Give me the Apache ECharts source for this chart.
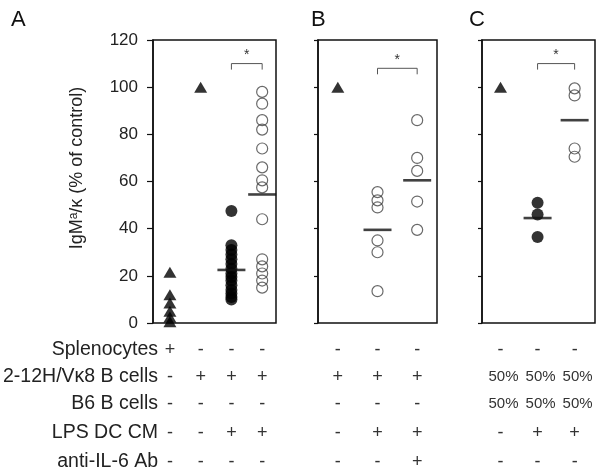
<!DOCTYPE html>
<html>
<head>
<meta charset="utf-8">
<script src="https://cdn.jsdelivr.net/npm/echarts/dist/echarts.min.js"></script>
<style>
html,body{margin:0;padding:0;background:#fff;}
#main{width:600px;height:474px;}
</style>
</head>
<body>
<div id="main"></div>
<script>
// ---------- data ----------
// y-axis ticks
const yTicks = [0, 20, 40, 60, 80, 100, 120];
// Panel A columns (0..3)
const aSplenocytes = [21.5, 12, 8.5, 5, 2.5, 0.5];
const aVk8 = [100];
const aVk8LPS1 = [47.5, 33, 31, 29, 27, 25, 23, 21, 19.5, 18, 16, 14, 12.5, 11, 10];
const aVk8LPS2 = [98, 93, 86, 82, 74, 66, 60.5, 57.5, 44, 27, 24, 21, 18, 15];
const aMeans = [22.5, 54.5];          // for columns 2 and 3
const aBracket = [2, 3, 110];
// Panel B columns (0..2)
const bVk8 = [100];
const bVk8LPS = [55.5, 52, 49, 35, 30, 13.5];
const bVk8LPSAb = [86, 70, 64.5, 51.5, 39.5];
const bMeans = [39.5, 60.5];          // for columns 1 and 2
const bBracket = [1, 2, 108];
// Panel C columns (0..2)
const cMix = [100];
const cMixLPS = [51, 46, 36.5];
const cMixLPSAb = [99.5, 96.5, 74, 70.5];
const cMeans = [44.5, 86];            // for columns 1 and 2
const cBracket = [1, 2, 110];
// Table under the panels
const rowLabels = ['Splenocytes', '2-12H/V\u03ba8 B cells', 'B6 B cells', 'LPS DC CM', 'anti-IL-6 Ab'];
const tableA = [['+','-','-','-'], ['-','+','+','+'], ['-','-','-','-'], ['-','-','+','+'], ['-','-','-','-']];
const tableB = [['-','-','-'], ['+','+','+'], ['-','-','-'], ['-','+','+'], ['-','-','+']];
const tableC = [['-','-','-'], ['50%','50%','50%'], ['50%','50%','50%'], ['-','+','+'], ['-','-','-']];
const panelLetters = ['A', 'B', 'C'];

// ---------- chart ----------
const FONT = 'Liberation Sans, Arial, Helvetica, sans-serif';
const chart = echarts.init(document.getElementById('main'), null, {renderer: 'canvas', width: 600, height: 474});

const grids = [
  {left: 153, right: 324, top: 40, bottom: 151},
  {left: 318, right: 163, top: 40, bottom: 151},
  {left: 482, right: 5, top: 40, bottom: 151}
].map(g => Object.assign({show: true, borderColor: '#111', borderWidth: 1.5, containLabel: false, outerBoundsMode: 'none'}, g));

const xRanges = [[-0.55, 3.45], [-0.5, 2.5], [-0.5, 2.55]];
const xAxes = xRanges.map((r, i) => ({type: 'value', gridIndex: i, min: r[0], max: r[1], show: false}));
const yAxes = [0, 1, 2].map(i => ({
  type: 'value', gridIndex: i, position: 'left', min: yTicks[0], max: yTicks[yTicks.length - 1], interval: yTicks[1] - yTicks[0],
  axisLine: {show: true, onZero: false, lineStyle: {color: '#111', width: 1.5}},
  axisTick: {show: true, inside: false, length: i === 0 ? 6 : 4, lineStyle: {color: '#111', width: 1.2}},
  axisLabel: {show: i === 0, fontFamily: FONT, fontSize: 17, color: '#222', margin: 15},
  splitLine: {show: false}
}));

const col = (arr, x) => arr.map(v => [x, v]);
const tri = {symbol: 'triangle', symbolSize: [13, 11], itemStyle: {color: '#000'}};
const dot = {symbol: 'circle', symbolSize: 12, itemStyle: {color: '#000'}};
const ring = {symbol: 'circle', symbolSize: 11, itemStyle: {color: 'rgba(0,0,0,0)', borderColor: '#444', borderWidth: 1.2}};

function sc(gi, data, style) {
  return Object.assign({type: 'scatter', xAxisIndex: gi, yAxisIndex: gi, data: data, silent: true, animation: false}, JSON.parse(JSON.stringify(style)));
}
function meanSeries(gi, cols, means) {
  return {type: 'scatter', xAxisIndex: gi, yAxisIndex: gi, symbol: 'rect', symbolSize: [28, 2.6],
    itemStyle: {color: '#111'}, z: 5, animation: false, silent: true,
    data: means.map((m, k) => [cols[k], m])};
}
function bracketSeries(gi, br) {
  return {type: 'custom', xAxisIndex: gi, yAxisIndex: gi, animation: false, silent: true, clip: false, z: 6,
    data: [br],
    encode: {x: [0, 1], y: 2},
    renderItem: function (params, api) {
      const a = api.coord([api.value(0), api.value(2)]);
      const b = api.coord([api.value(1), api.value(2)]);
      return {type: 'group', children: [
        {type: 'polyline', shape: {points: [[a[0], a[1] + 6], [a[0], a[1]], [b[0], b[1]], [b[0], b[1] + 6]]},
         style: {stroke: '#555', lineWidth: 1, fill: null}},
        {type: 'text', style: {text: '*', x: (a[0] + b[0]) / 2, y: a[1] - 1, align: 'center', verticalAlign: 'bottom',
          fontSize: 14, fontFamily: FONT, fill: '#333'}}
      ]};
    }};
}

const series = [
  sc(0, col(aSplenocytes, 0), tri),
  sc(0, col(aVk8, 1), tri),
  sc(0, col(aVk8LPS1, 2), dot),
  sc(0, col(aVk8LPS2, 3), ring),
  meanSeries(0, [2, 3], aMeans),
  bracketSeries(0, aBracket),
  sc(1, col(bVk8, 0), tri),
  sc(1, col(bVk8LPS, 1), ring),
  sc(1, col(bVk8LPSAb, 2), ring),
  meanSeries(1, [1, 2], bMeans),
  bracketSeries(1, bBracket),
  sc(2, col(cMix, 0), tri),
  sc(2, col(cMixLPS, 1), dot),
  sc(2, col(cMixLPSAb, 2), ring),
  meanSeries(2, [1, 2], cMeans),
  bracketSeries(2, cBracket)
];

chart.setOption({
  animation: false,
  backgroundColor: '#fff',
  grid: grids,
  xAxis: xAxes,
  yAxis: yAxes,
  series: series
});

// ---------- texts (table, labels) ----------
const graphics = [];
// y axis name
graphics.push({type: 'text', x: 77, y: 168, rotation: Math.PI / 2, silent: true,
  style: {text: '{n|IgM}{s|a}{n|/\u03ba (% of control)}', align: 'center', verticalAlign: 'middle',
    fontSize: 18, fontFamily: FONT, fill: '#222',
    rich: {
      n: {fontSize: 18, fontFamily: FONT, fill: '#222', verticalAlign: 'bottom'},
      s: {fontSize: 12, fontFamily: FONT, fill: '#222', verticalAlign: 'top', padding: [0, 0, 7, 0]}
    }}});
// panel letters
const letterX = [11, 311, 469];
panelLetters.forEach((L, i) => graphics.push({type: 'text', x: letterX[i], y: 9, silent: true,
  style: {text: L, fontSize: 22, fontFamily: FONT, fill: '#111'}}));
// table rows
const rowY = [350, 377, 404, 433, 462];
rowLabels.forEach((t, r) => graphics.push({type: 'text', x: 158, y: rowY[r], silent: true,
  style: {text: t, align: 'right', verticalAlign: 'middle', fontSize: 19.5, fontFamily: FONT, fill: '#222'}}));
[tableA, tableB, tableC].forEach((tbl, gi) => {
  tbl.forEach((row, r) => row.forEach((cell, c) => {
    const px = chart.convertToPixel({xAxisIndex: gi}, c);
    const pct = cell.indexOf('%') >= 0;
    graphics.push({type: 'text', x: px + (pct ? 3 : 0), y: rowY[r], silent: true,
      style: {text: cell, align: 'center', verticalAlign: 'middle', fontSize: pct ? 15 : 18, fontFamily: FONT, fill: '#333'}});
  }));
});
chart.setOption({graphic: graphics});
</script>
</body>
</html>
